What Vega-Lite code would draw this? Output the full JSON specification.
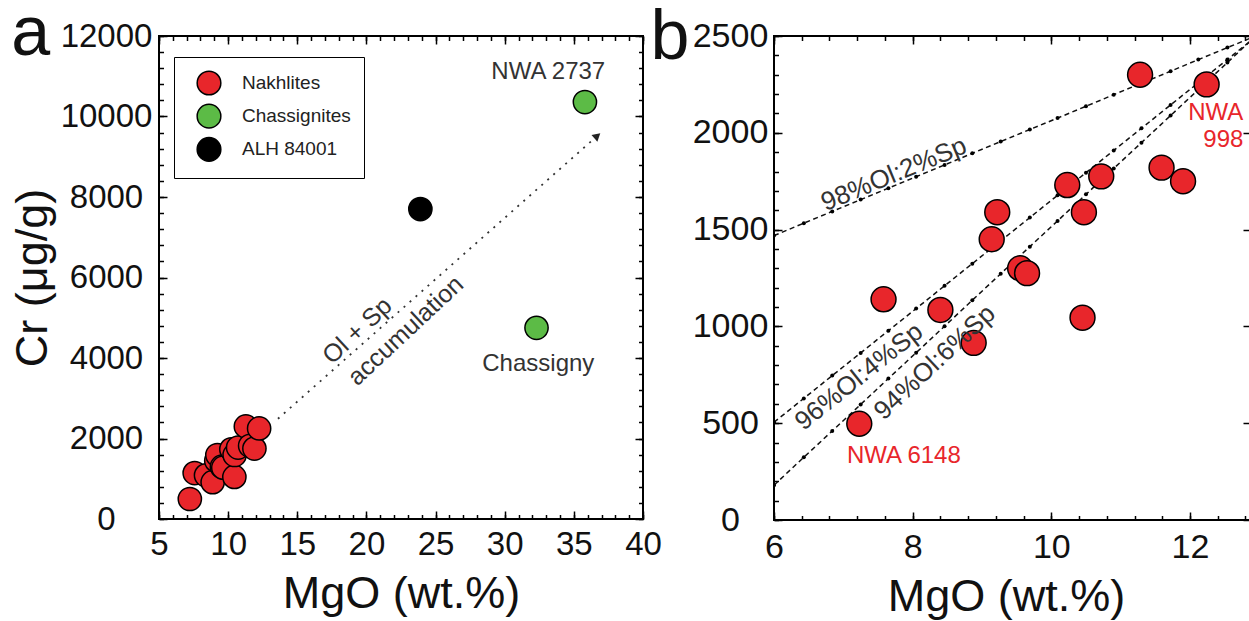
{
  "$schema": "https://vega.github.io/schema/vega-lite/v6.json",
  "autosize": {"type": "none"},
  "padding": {"left": 159, "top": 36, "right": 1090, "bottom": 585},
  "background": "white",
  "datasets": {
    "samples": [
      {"group": "Nakhlites", "mgo": 7.23, "cr": 497},
      {"group": "Nakhlites", "mgo": 7.58, "cr": 1140},
      {"group": "Nakhlites", "mgo": 8.40, "cr": 1085},
      {"group": "Nakhlites", "mgo": 8.88, "cr": 915},
      {"group": "Nakhlites", "mgo": 9.14, "cr": 1450},
      {"group": "Nakhlites", "mgo": 9.22, "cr": 1590},
      {"group": "Nakhlites", "mgo": 9.55, "cr": 1300},
      {"group": "Nakhlites", "mgo": 9.65, "cr": 1275},
      {"group": "Nakhlites", "mgo": 10.23, "cr": 1730},
      {"group": "Nakhlites", "mgo": 10.45, "cr": 1045},
      {"group": "Nakhlites", "mgo": 10.47, "cr": 1590},
      {"group": "Nakhlites", "mgo": 10.72, "cr": 1775},
      {"group": "Nakhlites", "mgo": 11.28, "cr": 2300},
      {"group": "Nakhlites", "mgo": 11.59, "cr": 1820},
      {"group": "Nakhlites", "mgo": 11.90, "cr": 1750},
      {"group": "Nakhlites", "mgo": 12.24, "cr": 2250},
      {"group": "Chassignites", "mgo": 35.8, "cr": 10360},
      {"group": "Chassignites", "mgo": 32.3, "cr": 4750},
      {"group": "ALH 84001", "mgo": 23.9, "cr": 7700}
    ],
    "arrow": [
      {"mgo": 13.6, "cr": 2490},
      {"mgo": 36.7, "cr": 9520}
    ],
    "mix": [
      {"series": "98", "kind": "dot", "mgo": 6.0, "cr": 1469},
      {"series": "98", "kind": "dot", "mgo": 6.43, "cr": 1533},
      {"series": "98", "kind": "dot", "mgo": 6.84, "cr": 1594},
      {"series": "98", "kind": "dot", "mgo": 7.25, "cr": 1655},
      {"series": "98", "kind": "dot", "mgo": 7.65, "cr": 1714},
      {"series": "98", "kind": "dot", "mgo": 8.05, "cr": 1773},
      {"series": "98", "kind": "dot", "mgo": 8.46, "cr": 1834},
      {"series": "98", "kind": "dot", "mgo": 8.86, "cr": 1894},
      {"series": "98", "kind": "dot", "mgo": 9.27, "cr": 1955},
      {"series": "98", "kind": "dot", "mgo": 9.69, "cr": 2017},
      {"series": "98", "kind": "dot", "mgo": 10.09, "cr": 2076},
      {"series": "98", "kind": "dot", "mgo": 10.50, "cr": 2137},
      {"series": "98", "kind": "dot", "mgo": 10.90, "cr": 2197},
      {"series": "98", "kind": "dot", "mgo": 11.30, "cr": 2256},
      {"series": "98", "kind": "dot", "mgo": 11.72, "cr": 2318},
      {"series": "98", "kind": "dot", "mgo": 12.12, "cr": 2378},
      {"series": "98", "kind": "dot", "mgo": 12.54, "cr": 2440},
      {"series": "98", "kind": "end", "mgo": 12.88, "cr": 2490},
      {"series": "96", "kind": "dot", "mgo": 6.0, "cr": 505},
      {"series": "96", "kind": "dot", "mgo": 6.43, "cr": 628},
      {"series": "96", "kind": "dot", "mgo": 6.84, "cr": 746},
      {"series": "96", "kind": "dot", "mgo": 7.25, "cr": 863},
      {"series": "96", "kind": "dot", "mgo": 7.65, "cr": 978},
      {"series": "96", "kind": "dot", "mgo": 8.05, "cr": 1092},
      {"series": "96", "kind": "dot", "mgo": 8.46, "cr": 1210},
      {"series": "96", "kind": "dot", "mgo": 8.86, "cr": 1324},
      {"series": "96", "kind": "dot", "mgo": 9.27, "cr": 1442},
      {"series": "96", "kind": "dot", "mgo": 9.69, "cr": 1562},
      {"series": "96", "kind": "dot", "mgo": 10.09, "cr": 1677},
      {"series": "96", "kind": "dot", "mgo": 10.50, "cr": 1794},
      {"series": "96", "kind": "dot", "mgo": 10.90, "cr": 1909},
      {"series": "96", "kind": "dot", "mgo": 11.30, "cr": 2023},
      {"series": "96", "kind": "dot", "mgo": 11.72, "cr": 2144},
      {"series": "96", "kind": "dot", "mgo": 12.12, "cr": 2258},
      {"series": "96", "kind": "dot", "mgo": 12.54, "cr": 2379},
      {"series": "96", "kind": "end", "mgo": 12.88, "cr": 2476},
      {"series": "94", "kind": "dot", "mgo": 6.0, "cr": 180},
      {"series": "94", "kind": "dot", "mgo": 6.43, "cr": 324},
      {"series": "94", "kind": "dot", "mgo": 6.84, "cr": 460},
      {"series": "94", "kind": "dot", "mgo": 7.25, "cr": 597},
      {"series": "94", "kind": "dot", "mgo": 7.65, "cr": 731},
      {"series": "94", "kind": "dot", "mgo": 8.05, "cr": 864},
      {"series": "94", "kind": "dot", "mgo": 8.46, "cr": 1001},
      {"series": "94", "kind": "dot", "mgo": 8.86, "cr": 1135},
      {"series": "94", "kind": "dot", "mgo": 9.27, "cr": 1272},
      {"series": "94", "kind": "dot", "mgo": 9.69, "cr": 1412},
      {"series": "94", "kind": "dot", "mgo": 10.09, "cr": 1545},
      {"series": "94", "kind": "dot", "mgo": 10.50, "cr": 1682},
      {"series": "94", "kind": "dot", "mgo": 10.90, "cr": 1816},
      {"series": "94", "kind": "dot", "mgo": 11.30, "cr": 1949},
      {"series": "94", "kind": "dot", "mgo": 11.72, "cr": 2089},
      {"series": "94", "kind": "dot", "mgo": 12.12, "cr": 2223},
      {"series": "94", "kind": "dot", "mgo": 12.54, "cr": 2363},
      {"series": "94", "kind": "end", "mgo": 12.88, "cr": 2477}
    ],
    "labels": [
      {"key": "nwa2737", "text": "NWA 2737", "mgo": 33.15, "cr": 10927},
      {"key": "chassigny", "text": "Chassigny", "mgo": 32.43, "cr": 3677},
      {"key": "olsp", "text": "Ol + Sp", "mgo": 19.34, "cr": 4678},
      {"key": "accum", "text": "accumulation", "mgo": 22.84, "cr": 4678},
      {"key": "a", "text": "a", "mgo": -4.27, "cr": 11528},
      {"key": "b", "text": "b", "mgo": 4.499, "cr": 2379},
      {"key": "l98", "text": "98%Ol:2%Sp", "mgo": 7.73, "cr": 1786},
      {"key": "l96", "text": "96%Ol:4%Sp", "mgo": 7.227, "cr": 740},
      {"key": "l94", "text": "94%Ol:6%Sp", "mgo": 8.32, "cr": 814},
      {"key": "nwa6148", "text": "NWA 6148", "mgo": 7.873, "cr": 293},
      {"key": "nwa998a", "text": "NWA", "mgo": 12.77, "cr": 2066},
      {"key": "nwa998b", "text": "998", "mgo": 12.77, "cr": 1928}
    ]
  },
  "hconcat": [
    {
      "width": 484,
      "height": 483,
      "resolve": {"axis": {"x": "independent", "y": "independent"}},
      "layer": [
        {
          "data": {"name": "samples"},
          "mark": {"type": "point", "filled": true, "shape": "circle", "size": 540, "stroke": "#000", "strokeWidth": 1.5, "opacity": 1},
          "encoding": {
            "x": {"field": "mgo", "type": "quantitative", "scale": {"domain": [5, 40], "nice": false, "zero": false},
              "axis": {"orient": "bottom", "values": [5, 10, 15, 20, 25, 30, 35, 40], "format": "d", "offset": -8, "tickSize": 8, "labelPadding": 9.6, "labelFontSize": 33, "title": "MgO (wt.%)", "titleFontSize": 45, "titlePadding": 10, "domain": false}},
            "y": {"field": "cr", "type": "quantitative", "scale": {"domain": [0, 12000], "nice": false, "zero": false},
              "axis": {"orient": "left", "values": [0, 2000, 4000, 6000, 8000, 10000, 12000], "format": "d", "offset": -8, "tickSize": 8, "labelAlign": "center", "labelPadding": 53, "labelFontSize": 33, "title": "Cr (μg/g)", "titleFontSize": 45, "titlePadding": 5, "domain": false}},
            "color": {"field": "group", "type": "nominal",
              "scale": {"domain": ["Nakhlites", "Chassignites", "ALH 84001"], "range": ["#E8262B", "#5CBB46", "#000000"]},
              "legend": {"orient": "none", "legendX": 15, "legendY": 21, "title": null, "padding": 13, "strokeColor": "#000", "fillColor": "#fff", "symbolType": "circle", "symbolSize": 560, "symbolStrokeColor": "#000", "symbolStrokeWidth": 1.5, "symbolOffset": 9, "labelFontSize": 19, "labelFont": "Liberation Sans", "labelColor": "#222", "labelOffset": 20, "rowPadding": 3.2}}
          }
        },
        {
          "data": {"name": "arrow"},
          "mark": {"type": "line", "strokeDash": [2, 6], "strokeWidth": 1.8, "color": "#333"},
          "encoding": {
            "x": {"field": "mgo", "type": "quantitative", "axis": {"orient": "bottom", "values": [5,6,7,8,9,10,11,12,13,14,15,16,17,18,19,20,21,22,23,24,25,26,27,28,29,30,31,32,33,34,35,36,37,38,39,40], "offset": -4.5, "tickSize": 4.5, "labels": false, "domain": false, "title": null}},
            "y": {"field": "cr", "type": "quantitative", "axis": {"orient": "left", "values": [0,400,800,1200,1600,2000,2400,2800,3200,3600,4000,4400,4800,5200,5600,6000,6400,6800,7200,7600,8000,8400,8800,9200,9600,10000,10400,10800,11200,11600,12000], "offset": -4.5, "tickSize": 4.5, "labels": false, "domain": false, "title": null}}
          }
        },
        {
          "data": {"name": "arrow"},
          "transform": [{"filter": "datum.mgo > 30"}],
          "mark": {"type": "point", "shape": "triangle-up", "filled": true, "size": 80, "angle": 49, "color": "#222", "opacity": 1},
          "encoding": {
            "x": {"field": "mgo", "type": "quantitative", "axis": {"orient": "top", "values": [5, 10, 15, 20, 25, 30, 35, 40], "offset": -8, "tickSize": 8, "labels": false, "domain": false, "title": null}},
            "y": {"field": "cr", "type": "quantitative", "axis": {"orient": "right", "values": [0, 2000, 4000, 6000, 8000, 10000, 12000], "offset": -8, "tickSize": 8, "labels": false, "domain": false, "title": null}}
          }
        },
        {
          "data": {"name": "labels"},
          "transform": [{"filter": "datum.key === 'nwa2737' || datum.key === 'chassigny'"}],
          "mark": {"type": "text", "fontSize": 24, "color": "#333", "align": "center", "baseline": "alphabetic"},
          "encoding": {
            "x": {"field": "mgo", "type": "quantitative", "axis": {"orient": "top", "values": [5,6,7,8,9,10,11,12,13,14,15,16,17,18,19,20,21,22,23,24,25,26,27,28,29,30,31,32,33,34,35,36,37,38,39,40], "offset": -4.5, "tickSize": 4.5, "labels": false, "domain": false, "title": null}},
            "y": {"field": "cr", "type": "quantitative", "axis": {"orient": "right", "values": [0,400,800,1200,1600,2000,2400,2800,3200,3600,4000,4400,4800,5200,5600,6000,6400,6800,7200,7600,8000,8400,8800,9200,9600,10000,10400,10800,11200,11600,12000], "offset": -4.5, "tickSize": 4.5, "labels": false, "domain": false, "title": null}},
            "text": {"field": "text"}
          }
        },
        {
          "data": {"name": "labels"},
          "transform": [{"filter": "datum.key === 'olsp' || datum.key === 'accum'"}],
          "mark": {"type": "text", "fontSize": 25, "color": "#333", "align": "center", "baseline": "middle", "angle": -43},
          "encoding": {
            "x": {"field": "mgo", "type": "quantitative", "axis": null},
            "y": {"field": "cr", "type": "quantitative", "axis": null},
            "text": {"field": "text"}
          }
        },
        {
          "data": {"name": "labels"},
          "transform": [{"filter": "datum.key === 'a'"}],
          "mark": {"type": "text", "fontSize": 70, "color": "#111", "align": "center", "baseline": "alphabetic"},
          "encoding": {
            "x": {"field": "mgo", "type": "quantitative", "axis": null},
            "y": {"field": "cr", "type": "quantitative", "axis": null},
            "text": {"field": "text"}
          }
        }
      ]
    },
    {
      "width": 477,
      "height": 484,
      "resolve": {"axis": {"x": "independent", "y": "independent"}},
      "layer": [
        {
          "data": {"name": "mix"},
          "mark": {"type": "line", "strokeDash": [5, 3.5], "strokeWidth": 1.5, "color": "#111", "clip": true},
          "encoding": {
            "x": {"field": "mgo", "type": "quantitative", "scale": {"domain": [6, 12.88], "nice": false, "zero": false},
              "axis": {"orient": "bottom", "values": [6, 8, 10, 12], "format": "d", "offset": -8, "tickSize": 8, "labelPadding": 10, "labelFontSize": 34, "title": "MgO (wt.%)", "titleFontSize": 45, "titlePadding": 10, "titleX": 232, "domain": false}},
            "y": {"field": "cr", "type": "quantitative", "scale": {"domain": [0, 2500], "nice": false, "zero": false},
              "axis": {"orient": "left", "values": [0, 500, 1000, 1500, 2000, 2500], "format": "d", "offset": -8, "tickSize": 8, "labelAlign": "center", "labelPadding": 44, "labelFontSize": 34, "title": null, "domain": false}},
            "detail": {"field": "series"}
          }
        },
        {
          "data": {"name": "mix"},
          "transform": [{"filter": "datum.kind === 'dot'"}],
          "mark": {"type": "circle", "size": 16, "color": "#000", "opacity": 1, "clip": true},
          "encoding": {
            "x": {"field": "mgo", "type": "quantitative", "axis": {"orient": "bottom", "values": [6, 6.4, 6.8, 7.2, 7.6, 8, 8.4, 8.8, 9.2, 9.6, 10, 10.4, 10.8, 11.2, 11.6, 12, 12.4, 12.8], "offset": -4.5, "tickSize": 4.5, "labels": false, "domain": false, "title": null}},
            "y": {"field": "cr", "type": "quantitative", "axis": {"orient": "left", "values": [0,100,200,300,400,500,600,700,800,900,1000,1100,1200,1300,1400,1500,1600,1700,1800,1900,2000,2100,2200,2300,2400,2500], "offset": -4.5, "tickSize": 4.5, "labels": false, "domain": false, "title": null}}
          }
        },
        {
          "data": {"name": "samples"},
          "transform": [{"filter": "datum.group === 'Nakhlites'"}],
          "mark": {"type": "point", "filled": true, "shape": "circle", "size": 620, "fill": "#E8262B", "stroke": "#000", "strokeWidth": 1.5, "opacity": 1, "clip": true},
          "encoding": {
            "x": {"field": "mgo", "type": "quantitative", "axis": {"orient": "top", "values": [6, 8, 10, 12], "offset": -8, "tickSize": 8, "labels": false, "domain": false, "title": null}},
            "y": {"field": "cr", "type": "quantitative", "axis": {"orient": "right", "values": [0, 500, 1000, 1500, 2000, 2500], "offset": -8, "tickSize": 8, "labels": false, "domain": false, "title": null}}
          }
        },
        {
          "data": {"name": "labels"},
          "transform": [{"filter": "datum.key === 'nwa6148'"}],
          "mark": {"type": "text", "fontSize": 24, "color": "#E8262B", "align": "center", "baseline": "alphabetic"},
          "encoding": {
            "x": {"field": "mgo", "type": "quantitative", "axis": {"orient": "top", "values": [6, 6.4, 6.8, 7.2, 7.6, 8, 8.4, 8.8, 9.2, 9.6, 10, 10.4, 10.8, 11.2, 11.6, 12, 12.4, 12.8], "offset": -4.5, "tickSize": 4.5, "labels": false, "domain": false, "title": null}},
            "y": {"field": "cr", "type": "quantitative", "axis": null},
            "text": {"field": "text"}
          }
        },
        {
          "data": {"name": "labels"},
          "transform": [{"filter": "datum.key === 'nwa998a' || datum.key === 'nwa998b'"}],
          "mark": {"type": "text", "fontSize": 24, "color": "#E8262B", "align": "right", "baseline": "alphabetic", "clip": true},
          "encoding": {
            "x": {"field": "mgo", "type": "quantitative", "axis": null},
            "y": {"field": "cr", "type": "quantitative", "axis": null},
            "text": {"field": "text"}
          }
        },
        {
          "data": {"name": "labels"},
          "transform": [{"filter": "datum.key === 'l98'"}],
          "mark": {"type": "text", "fontSize": 26, "color": "#333", "align": "center", "baseline": "middle", "angle": -22.5},
          "encoding": {
            "x": {"field": "mgo", "type": "quantitative", "axis": null},
            "y": {"field": "cr", "type": "quantitative", "axis": null},
            "text": {"field": "text"}
          }
        },
        {
          "data": {"name": "labels"},
          "transform": [{"filter": "datum.key === 'l96'"}],
          "mark": {"type": "text", "fontSize": 26, "color": "#333", "align": "center", "baseline": "middle", "angle": -38.5},
          "encoding": {
            "x": {"field": "mgo", "type": "quantitative", "axis": null},
            "y": {"field": "cr", "type": "quantitative", "axis": null},
            "text": {"field": "text"}
          }
        },
        {
          "data": {"name": "labels"},
          "transform": [{"filter": "datum.key === 'l94'"}],
          "mark": {"type": "text", "fontSize": 26, "color": "#333", "align": "center", "baseline": "middle", "angle": -43},
          "encoding": {
            "x": {"field": "mgo", "type": "quantitative", "axis": null},
            "y": {"field": "cr", "type": "quantitative", "axis": null},
            "text": {"field": "text"}
          }
        },
        {
          "data": {"name": "labels"},
          "transform": [{"filter": "datum.key === 'b'"}],
          "mark": {"type": "text", "fontSize": 70, "color": "#111", "align": "center", "baseline": "alphabetic"},
          "encoding": {
            "x": {"field": "mgo", "type": "quantitative", "axis": null},
            "y": {"field": "cr", "type": "quantitative", "axis": null},
            "text": {"field": "text"}
          }
        }
      ]
    }
  ],
  "spacing": 131,
  "bounds": "flush",
  "config": {
    "view": {"stroke": "#000", "strokeWidth": 2},
    "font": "Liberation Sans",
    "axis": {"grid": false, "labelFont": "Liberation Sans", "titleFont": "Liberation Sans", "labelColor": "#111", "titleColor": "#111", "titleFontWeight": "normal", "tickColor": "#000", "tickWidth": 1.5, "ticks": true, "labelFlush": false, "labelOverlap": false},
    "text": {"font": "Liberation Sans"}
  }
}
